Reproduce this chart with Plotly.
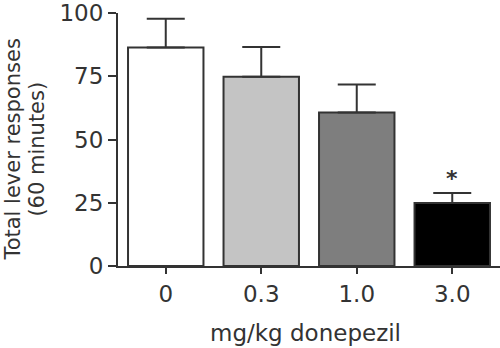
import plotly.graph_objects as go

# Dose groups and response data
doses = ["0", "0.3", "1.0", "3.0"]
mean_responses = [86.4, 74.8, 60.7, 24.9]
sem_upper = [11.3, 11.8, 11.0, 4.0]
bar_colors = ["#ffffff", "#c4c4c4", "#7e7e7e", "#000000"]
significant = [False, False, False, True]
y_ticks = [0, 25, 50, 75, 100]
y_title_lines = ["Total lever responses", "(60 minutes)"]

ink = "#333333"
font_family = "DejaVu Sans, Liberation Sans, Arial, sans-serif"

fig = go.Figure()
fig.add_trace(go.Bar(
    x=doses,
    y=mean_responses,
    width=0.79,
    marker=dict(color=bar_colors, line=dict(color=ink, width=2)),
    error_y=dict(
        type="data",
        symmetric=False,
        array=sem_upper,
        arrayminus=[0] * len(sem_upper),
        color=ink,
        thickness=2,
        width=19,
    ),
    showlegend=False,
))

# Significance markers above the error bars
for d, m, e, sig in zip(doses, mean_responses, sem_upper, significant):
    if sig:
        fig.add_annotation(
            x=d, y=m + e + 5.5, xref="x", yref="y",
            text="<b>*</b>", showarrow=False,
            font=dict(family=font_family, size=22, color=ink),
            xanchor="center", yanchor="middle",
        )

# Y-axis title, one annotation per line
for line, xpx in zip(y_title_lines, [13, 37]):
    fig.add_annotation(
        xref="paper", yref="paper", x=(xpx - 118) / 382, y=0.46,
        text=line, textangle=-90, showarrow=False,
        font=dict(family=font_family, size=21, color=ink),
        xanchor="center", yanchor="middle",
    )
fig.add_annotation(
    xref="paper", yref="paper", x=0.49, y=-0.265,
    text="mg/kg donepezil", showarrow=False,
    font=dict(family=font_family, size=23, color=ink),
    xanchor="center", yanchor="middle",
)

fig.update_layout(
    width=500, height=348,
    margin=dict(l=118, r=0, t=11, b=82),
    plot_bgcolor="white", paper_bgcolor="white",
    font=dict(family=font_family, size=23, color=ink),
    bargap=0.21,
)
fig.update_xaxes(
    type="category",
    range=[-0.5, 3.5],
    showline=True, linecolor=ink, linewidth=2,
    ticks="outside", ticklen=6, tickwidth=2, tickcolor=ink,
    showgrid=False, zeroline=False,
    tickfont=dict(family=font_family, size=23, color=ink),
)
fig.update_yaxes(
    range=[0, 100],
    tickvals=y_ticks,
    ticklabeloverflow="allow",
    showline=True, linecolor=ink, linewidth=2,
    ticks="outside", ticklen=8, tickwidth=2, tickcolor=ink,
    showgrid=False, zeroline=False,
    tickfont=dict(family=font_family, size=23, color=ink),
)

fig.write_html("out.html")
